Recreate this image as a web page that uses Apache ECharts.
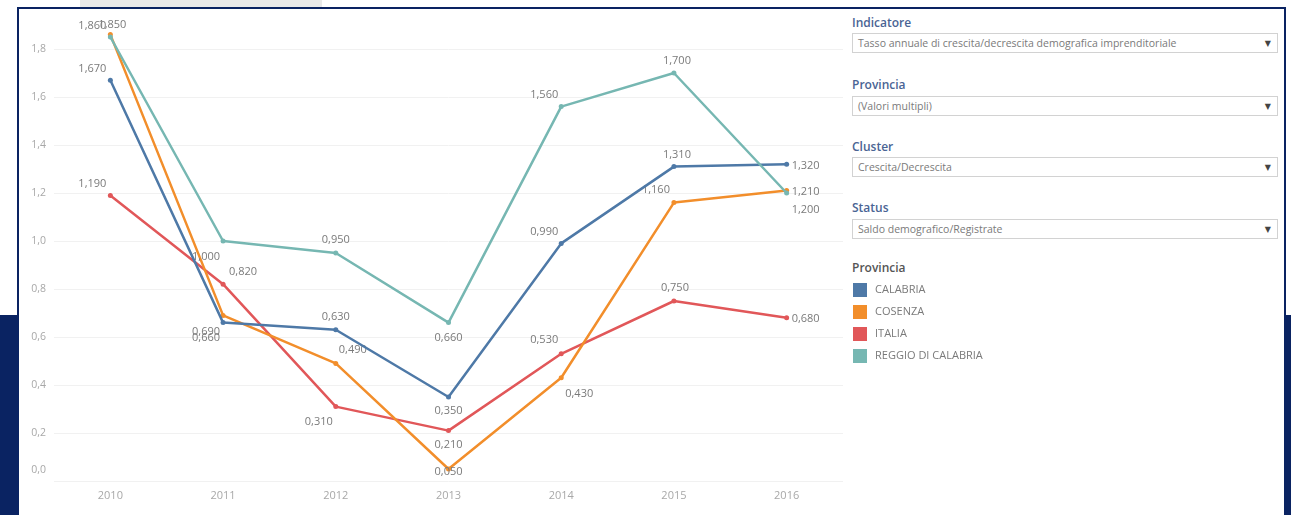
<!DOCTYPE html>
<html>
<head>
<meta charset="utf-8">
<script src="https://cdn.jsdelivr.net/npm/echarts@6/dist/echarts.min.js"></script>
<style>
  html, body { margin:0; padding:0; width:1291px; height:515px; overflow:hidden; background:#fff; font-family:"Open Sans", "DejaVu Sans", sans-serif; }
  .abs { position:absolute; }
  .ttl { position:absolute; left:852px; font-size:12px; font-weight:600; color:#4a6494; }
  .box { position:absolute; left:852px; width:426px; height:20px; border:1px solid #d2d2d2; box-sizing:border-box; font-size:10.5px; color:#7a7a7a; line-height:18px; padding-left:5px; white-space:nowrap; overflow:hidden; }
  .box .arr { position:absolute; right:6px; top:0; font-size:8px; color:#444; }
  #chart { position:absolute; left:0; top:0; width:1291px; height:515px; }
</style>
</head>
<body>
<div class="abs" style="left:80px;top:0;width:242px;height:8px;background:#e9e9e9"></div>
<div class="abs" style="left:0;top:315px;width:19px;height:200px;background:#0a2362"></div>
<div class="abs" style="left:1284px;top:315px;width:7px;height:200px;background:#0a2362"></div>
<div class="abs" style="left:17px;top:7px;width:1269px;height:530px;border:2px solid #0a2362;box-sizing:border-box;background:#fff"></div>

<div class="ttl" style="top:14px">Indicatore</div>
<div class="box" style="top:33px">Tasso annuale di crescita/decrescita demografica imprenditoriale<span class="arr">▼</span></div>
<div class="ttl" style="top:76px">Provincia</div>
<div class="box" style="top:96px">(Valori multipli)<span class="arr">▼</span></div>
<div class="ttl" style="top:138px">Cluster</div>
<div class="box" style="top:157px">Crescita/Decrescita<span class="arr">▼</span></div>
<div class="ttl" style="top:199px">Status</div>
<div class="box" style="top:219px">Saldo demografico/Registrate<span class="arr">▼</span></div>
<div class="ttl" style="top:259px;color:#555">Provincia</div>

<div id="chart"></div>
<script>
// ---- data ----
const years = ['2010', '2011', '2012', '2013', '2014', '2015', '2016'];
const calabria = [1.670, 0.660, 0.630, 0.350, 0.990, 1.310, 1.320];
const cosenza  = [1.860, 0.690, 0.490, 0.050, 0.430, 1.160, 1.210];
const italia   = [1.190, 0.820, 0.310, 0.210, 0.530, 0.750, 0.680];
const reggio   = [1.850, 1.000, 0.950, 0.660, 1.560, 1.700, 1.200];
const seriesNames = ['CALABRIA', 'COSENZA', 'ITALIA', 'REGGIO DI CALABRIA'];

// ---- styling ----
const colors = ['#4e79a7', '#f28e2b', '#e15759', '#76b7b2'];
const labelOffsets = [
  [[-18,-11], [-17,15], [0,-13], [0,14], [-17,-12], [3,-12], [19,2]],
  [[-18,-9],  [-17,16], [17,-14], [0,3], [18,16], [-18,-13], [19,1]],
  [[-18,-12], [20,-12], [-17,15], [0,14], [-17,-14], [1,-13], [19,1]],
  [[2,-12],   [-17,16], [0,-13], [0,15], [-17,-12], [3,-12], [19,17]]
];
const fmt3 = v => v.toFixed(3).replace('.', ',');

const allValues = [calabria, cosenza, italia, reggio];
const drawOrder = [2, 1, 0, 3];

const series = drawOrder.map(si => ({
  name: seriesNames[si],
  type: 'line',
  z: 2 + drawOrder.indexOf(si),
  data: allValues[si].map((v, i) => ({ value: v, label: { offset: labelOffsets[si][i] } })),
  symbol: 'circle',
  symbolSize: 5,
  lineStyle: { width: 2.5, color: colors[si] },
  itemStyle: { color: colors[si] },
  emphasis: { disabled: true },
  label: {
    show: true,
    position: 'inside',
    align: 'center',
    verticalAlign: 'middle',
    color: '#7a7a7a',
    fontSize: 11,
    fontFamily: 'Open Sans',
    formatter: p => fmt3(p.value)
  }
}));

const chart = echarts.init(document.getElementById('chart'), null, { renderer: 'canvas' });
chart.setOption({
  backgroundColor: 'transparent',
  animation: false,
  color: colors,
  grid: { left: 54, right: 448, top: 25, bottom: 34 },
  legend: {
    data: seriesNames,
    orient: 'vertical',
    left: 853,
    top: 283,
    padding: 0,
    icon: 'rect',
    itemWidth: 14,
    itemHeight: 14,
    itemGap: 8,
    selectedMode: false,
    textStyle: { color: '#7a7a7a', fontSize: 11, fontFamily: 'Open Sans', padding: [0, 0, 0, 3] }
  },
  xAxis: {
    type: 'category',
    data: years,
    boundaryGap: true,
    axisLine: { show: false },
    axisTick: { show: false },
    axisLabel: { color: '#a8a8a8', fontSize: 11, margin: 9, fontFamily: 'Open Sans' },
    splitLine: { show: false }
  },
  yAxis: {
    type: 'value',
    min: 0,
    max: 1.9,
    interval: 0.2,
    axisLine: { show: false },
    axisTick: { show: false },
    axisLabel: {
      color: '#a8a8a8', fontSize: 10.5, margin: 8, fontFamily: 'Open Sans',
      showMaxLabel: false,
      formatter: v => v === 0 ? '{z|0,0}' : v.toFixed(1).replace('.', ','),
      rich: { z: { color: '#a8a8a8', fontSize: 10.5, fontFamily: 'Open Sans', padding: [0, 0, 22, 0] } }
    },
    splitLine: { show: true, showMaxLine: false, lineStyle: { color: '#f1f1f1', width: 1 } }
  },
  series: series
});
</script>
</body>
</html>
